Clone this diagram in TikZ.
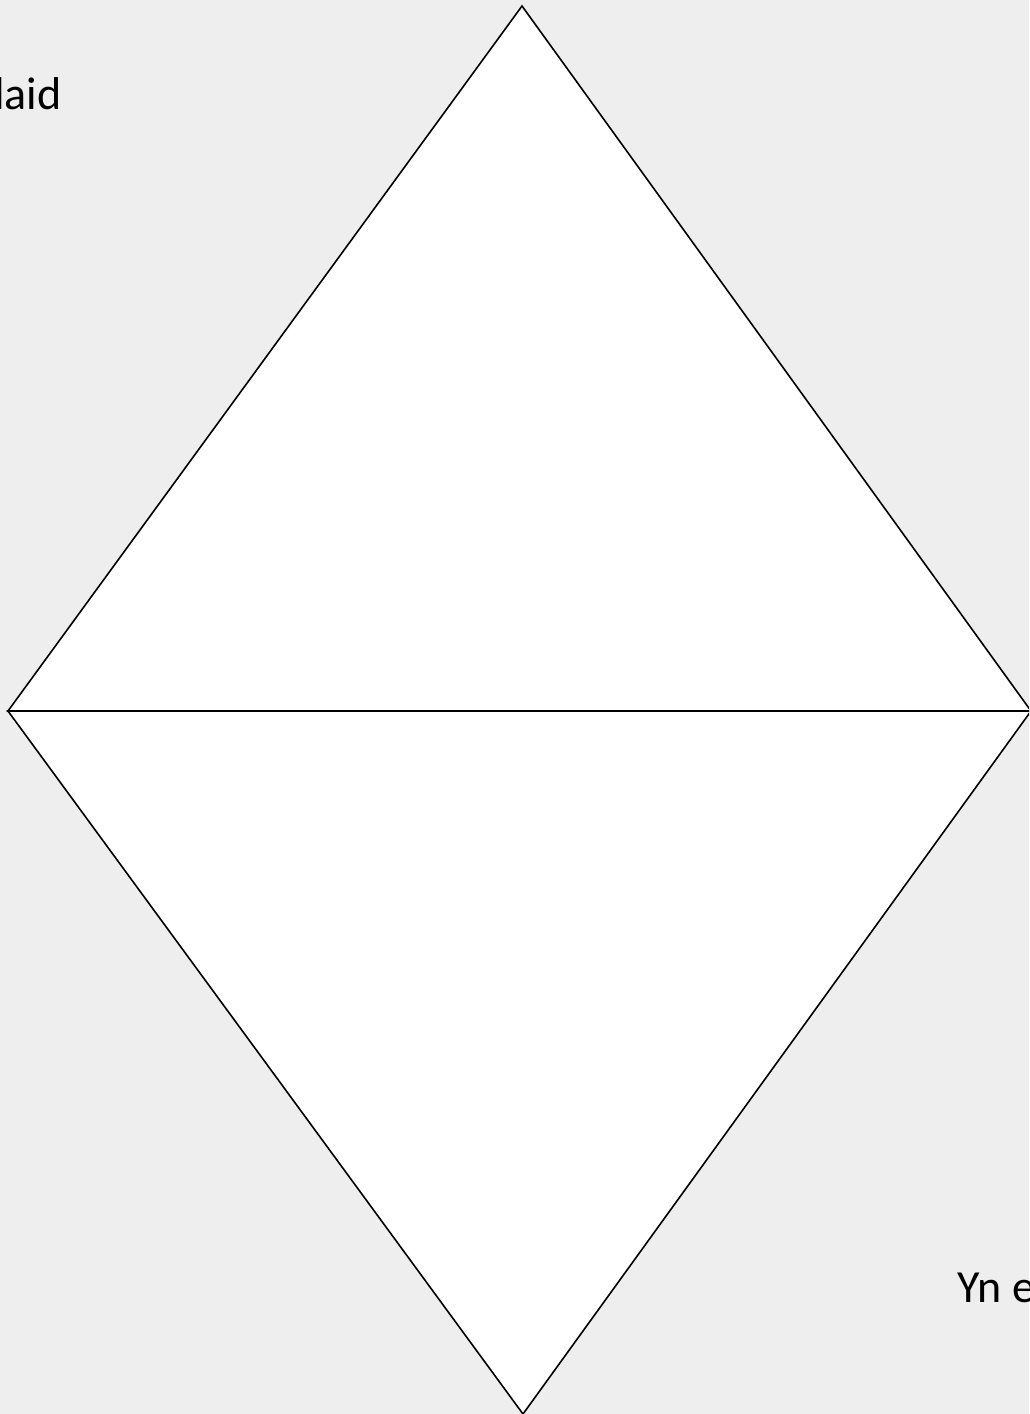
\documentclass[tikz,border=0pt]{standalone}
\usepackage{fontspec}
\setmainfont{Carlito}
\begin{document}
\begin{tikzpicture}[x=1pt,y=-1pt,
  shape line/.style={draw=black,line width=1.6pt,fill=white,line join=miter},
  label text/.style={anchor=base west,inner sep=0pt,font=\fontsize{46}{55}\selectfont}]
\useasboundingbox (0,0) rectangle (1029,1414);
\clip (0,0) rectangle (1029,1414);
\fill[fill={rgb,255:red,238;green,238;blue,238}] (0,0) rectangle (1029,1414);
\coordinate (T) at (522,6);
\coordinate (L) at (8,711);
\coordinate (R) at (1031,711);
\coordinate (B) at (523,1414);
\filldraw[shape line] (L) -- (T) -- (R) -- cycle;
\filldraw[shape line] (L) -- (B) -- (R) -- cycle;
\node[label text] (t1) at (-6,109) {laid};
\node[label text] (t2) at (957,1302) {Yn e};
\end{tikzpicture}
\end{document}
